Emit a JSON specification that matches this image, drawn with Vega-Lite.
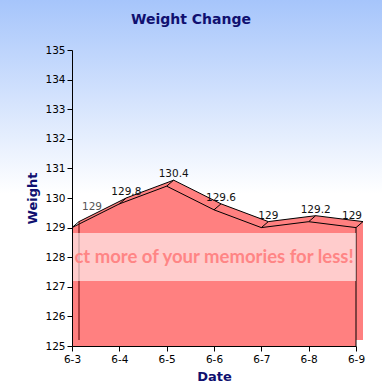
{
  "$schema": "https://vega.github.io/schema/vega-lite/v6.json",
  "width": 382,
  "height": 387,
  "autosize": {"type": "none"},
  "padding": 0,
  "background": "#ffffff",
  "view": {
    "stroke": null,
    "fill": {"gradient": "linear", "x1": 0, "y1": 0, "x2": 0, "y2": 1,
      "stops": [{"offset": 0, "color": "#a6c5fb"}, {"offset": 0.5, "color": "#ffffff"}, {"offset": 1, "color": "#ffffff"}]}
  },
  "title": {"text": "Weight Change", "font": "DejaVu Sans", "fontSize": 14, "fontWeight": "bold", "color": "#101070", "anchor": "middle", "frame": "group", "offset": -38, "baseline": "alphabetic"},
  "data": {"values": [
    {"date": "6-3", "weight": 129},
    {"date": "6-4", "weight": 129.8},
    {"date": "6-5", "weight": 130.4},
    {"date": "6-6", "weight": 129.6},
    {"date": "6-7", "weight": 129},
    {"date": "6-8", "weight": 129.2},
    {"date": "6-9", "weight": 129}
  ]},
  "encoding": {
    "x": {"field": "date", "type": "ordinal",
      "scale": {"type": "point", "range": [72, 356], "padding": 0},
      "axis": {"title": "Date", "labelAngle": 0, "offset": -41, "zindex": 1, "grid": false,
        "domainColor": "#000000", "tickColor": "#000000", "tickSize": 5, "labelPadding": 3,
        "labelFont": "DejaVu Sans", "labelFontSize": 10.5, "labelColor": "#000000",
        "titleFont": "DejaVu Sans", "titleFontSize": 13, "titleFontWeight": "bold", "titleColor": "#101070", "titlePadding": 6}},
    "y": {"field": "weight", "type": "quantitative",
      "scale": {"domain": [125, 135], "range": [346, 50], "nice": false, "zero": false},
      "axis": {"title": "Weight", "offset": -72, "zindex": 1, "grid": false, "values": [125, 126, 127, 128, 129, 130, 131, 132, 133, 134, 135],
        "domainColor": "#000000", "tickColor": "#000000", "tickSize": 5, "labelPadding": 2,
        "labelFont": "DejaVu Sans", "labelFontSize": 10.5, "labelColor": "#000000",
        "titleFont": "DejaVu Sans", "titleFontSize": 13, "titleFontWeight": "bold", "titleColor": "#101070", "titlePadding": 5}}
  },
  "layer": [
    {"data": {"values": [{}]}, "mark": {"type": "rule", "color": "#000000", "strokeDash": [3, 3], "xOffset": 7, "yOffset": -6, "y2Offset": -6},
     "encoding": {"x": {"datum": "6-3", "type": "ordinal"}, "y": {"datum": 135}, "y2": {"datum": 125}}},
    {"data": {"values": [{}]}, "mark": {"type": "rule", "color": "#000000", "xOffset": 7, "yOffset": -6, "y2Offset": -6},
     "encoding": {"x": {"datum": "6-9", "type": "ordinal"}, "y": {"datum": 135}, "y2": {"datum": 125}}},
    {"data": {"values": [{}]}, "mark": {"type": "rule", "color": "#000000", "xOffset": 7, "x2Offset": 7, "yOffset": -6},
     "encoding": {"x": {"datum": "6-3", "type": "ordinal"}, "x2": {"datum": "6-9"}, "y": {"datum": 135}}},
    {"data": {"values": [{}]}, "mark": {"type": "rule", "color": "#000000", "x2Offset": 7, "y2Offset": -6},
     "encoding": {"x": {"datum": "6-3", "type": "ordinal"}, "x2": {"datum": "6-3"}, "y": {"datum": 135}, "y2": {"datum": 135}}},
    {"mark": {"type": "area", "color": "#ff8080", "xOffset": 7, "yOffset": -6, "y2Offset": -6},
     "encoding": {"y2": {"datum": 125}}},
    {"mark": {"type": "line", "color": "#000000", "strokeWidth": 1, "xOffset": 7, "yOffset": -6}},
    {"mark": {"type": "area", "color": "#ff8080"},
     "encoding": {"y2": {"datum": 125}}},
    {"mark": {"type": "line", "color": "#000000", "strokeWidth": 1}},
    {"mark": {"type": "rule", "color": "#000000", "x2Offset": 7, "y2Offset": -6},
     "encoding": {"x2": {"field": "date"}, "y2": {"field": "weight"}}},
    {"data": {"values": [{}]}, "mark": {"type": "rule", "color": "#7a0000", "xOffset": 7, "x2Offset": 7, "yOffset": -6},
     "encoding": {"x": {"datum": "6-3", "type": "ordinal"}, "x2": {"datum": "6-9"}, "y": {"datum": 125}}},
    {"transform": [{"filter": "datum.date == '6-3'"}], "mark": {"type": "rule", "color": "#5a0000", "xOffset": 7, "yOffset": -6, "y2Offset": -6},
     "encoding": {"y2": {"datum": 125}}},
    {"data": {"values": [{}]}, "mark": {"type": "rule", "color": "#7a0000", "x2Offset": 7, "y2Offset": -6},
     "encoding": {"x": {"datum": "6-3", "type": "ordinal"}, "x2": {"datum": "6-3"}, "y": {"datum": 125}, "y2": {"datum": 125}}},
    {"data": {"values": [{}]}, "mark": {"type": "rule", "color": "#7a0000", "x2Offset": 7, "y2Offset": -6},
     "encoding": {"x": {"datum": "6-9", "type": "ordinal"}, "x2": {"datum": "6-9"}, "y": {"datum": 125}, "y2": {"datum": 125}}},
    {"transform": [{"filter": "datum.date == '6-9'"}], "mark": {"type": "rule", "color": "#000000"},
     "encoding": {"y2": {"datum": 125}}},
    {"mark": {"type": "area", "color": "#ffffff", "opacity": 0.6},
     "encoding": {"y": {"datum": 128.82}, "y2": {"datum": 127.2}}},
    {"transform": [{"filter": "datum.date == '6-6'"}],
     "mark": {"type": "text", "text": "ct more of your memories for less!", "font": "Lato", "fontWeight": "bold", "fontSize": 18.5, "color": "#ff8585", "align": "center", "baseline": "alphabetic"},
     "encoding": {"y": {"datum": 127.8}}},
    {"transform": [{"filter": "datum.date != '6-3' && datum.date != '6-9'"}],
     "mark": {"type": "text", "font": "DejaVu Sans", "fontSize": 10.5, "color": "#111111", "align": "center", "baseline": "alphabetic", "dx": 7, "dy": -9},
     "encoding": {"text": {"field": "weight", "type": "nominal"}}},
    {"transform": [{"filter": "datum.date == '6-3'"}],
     "mark": {"type": "text", "font": "DejaVu Sans", "fontSize": 10.5, "color": "#555555", "align": "center", "baseline": "alphabetic", "dx": 20, "dy": -18},
     "encoding": {"text": {"field": "weight", "type": "nominal"}}},
    {"transform": [{"filter": "datum.date == '6-9'"}],
     "mark": {"type": "text", "font": "DejaVu Sans", "fontSize": 10.5, "color": "#111111", "align": "center", "baseline": "alphabetic", "dx": -4, "dy": -9},
     "encoding": {"text": {"field": "weight", "type": "nominal"}}}
  ]
}
